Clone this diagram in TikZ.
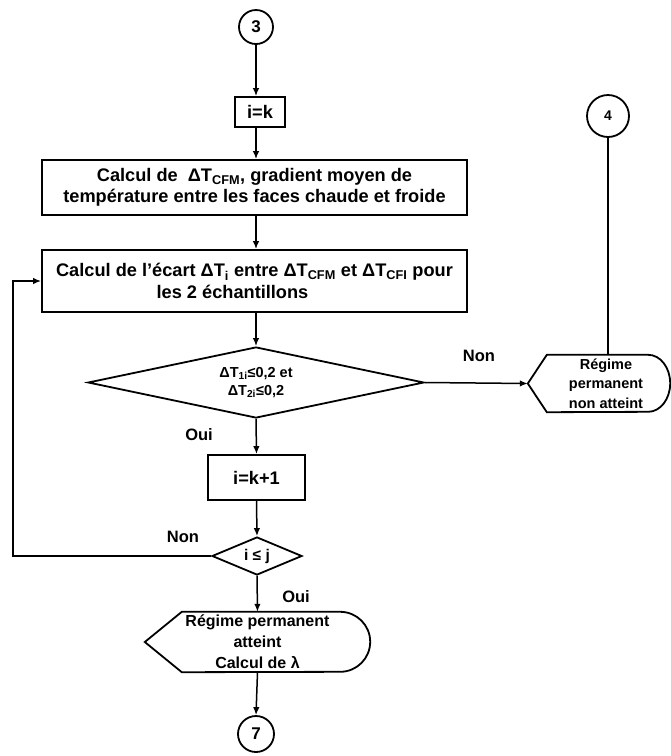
\documentclass[tikz,border=0pt]{standalone}
\usepackage{fontspec}
\setmainfont{Liberation Sans}
\usetikzlibrary{arrows.meta,shapes.geometric,calc}
\begin{document}
\begin{tikzpicture}[x=1pt,y=-1pt,
  procbox/.style={draw, line width=1.8pt, inner sep=0pt, align=center,
    font=\fontsize{18.2}{21.5}\selectfont\bfseries},
  conn/.style={line width=1.5pt, -{Latex[length=8pt,width=6.5pt]}},
  plainconn/.style={line width=1.5pt},
  lbl/.style={font=\fontsize{16.5}{19}\selectfont\bfseries},
  conncircle/.style={draw, circle, line width=1.8pt, minimum size=#1, inner sep=0pt,
    font=\fontsize{17}{19}\selectfont\bfseries},
  decision/.style={draw, diamond, line width=1.8pt, inner sep=0pt, align=center,
    font=\fontsize{14.5}{18}\selectfont\bfseries},
  dispbox/.style={inner sep=0pt, align=center},
  displine/.style={line width=1.8pt}]
\useasboundingbox (0,0) rectangle (671,756);
\coordinate (ax) at (256,0);
\coordinate (lp) at (13,0);

\node[conncircle=34pt] (c3) at (256,27) {3};
\node[procbox, minimum width=50pt, minimum height=30pt] (ik) at (260,112) {i=k};
\node[procbox, minimum width=425pt, minimum height=55pt] (b1) at (254.5,187.5)
  {Calcul de \ ΔT\textsubscript{CFM}, gradient moyen de\\température entre les faces chaude et froide};
\node[procbox, minimum width=425pt, minimum height=62pt] (b2) at (254.5,281)
  {Calcul de l'écart ΔT\textsubscript{i} entre ΔT\textsubscript{CFM} et ΔT\textsubscript{CFI} pour\\les 2 échantillons\hspace*{44pt}};
\node[decision, aspect=4.7, minimum width=336pt, minimum height=71pt] (d1) at (256,382.5)
  {ΔT\textsubscript{1i}≤0,2 et\\ΔT\textsubscript{2i}≤0,2};
\node[procbox, minimum width=97pt, minimum height=45pt] (ik1) at (256.5,477.5) {i=k+1};
\node[decision, aspect=2.4, minimum width=90pt, minimum height=38pt,
  font=\fontsize{15.5}{18}\selectfont\bfseries] (d2) at (257,556) {i ≤ j};
\node[dispbox, minimum width=225pt, minimum height=60pt,
  font=\fontsize{16}{21}\selectfont\bfseries] (e2) at (257.5,642)
  {Régime permanent\\atteint\\Calcul de λ};
\node[conncircle=36pt] (c7) at (256,734) {7};
\node[dispbox, minimum width=142pt, minimum height=57pt] (e1) at (599,383.5) {};
\node[dispbox, font=\fontsize{14.5}{19.5}\selectfont\bfseries] (e1t) at (606,383.5)
  {Régime\\permanent\\non atteint};
\node[conncircle=42pt, font=\fontsize{14}{17}\selectfont\bfseries] (c4) at (608,116) {4};

% display outlines
\draw[displine] (e1.west) -- ([xshift=19pt]e1.north west) -- ([xshift=-22pt]e1.north east)
  arc[start angle=90, end angle=-90, x radius=22pt, y radius=28.5pt]
  -- ([xshift=19pt]e1.south west) -- cycle;
\draw[displine] (e2.west) -- ([xshift=37pt]e2.north west) -- ([xshift=-30pt]e2.north east)
  arc[start angle=90, end angle=-90, x radius=30pt, y radius=30pt]
  -- ([xshift=37pt]e2.south west) -- cycle;

% connectors
\draw[conn] (c3.south) -- (c3.south |- ik.north);
\draw[conn] (ik.south -| ax) -- (ax |- b1.north);
\draw[conn] (b1.south -| ax) -- (ax |- b2.north);
\draw[conn] (b2.south -| ax) -- (d1.north);
\draw[conn] (d1.south) -- (ik1.north);
\draw[conn] (ik1.south) -- (d2.north);
\draw[conn] (d2.south) -- (e2.north);
\draw[conn] (e2.south) -- (c7.north);
\draw[conn] (d1.east) -- (e1.west);
\draw[plainconn] (c4.south) -- (c4.south |- e1.north);
\draw[conn] (d2.west) -- (d2.west -| lp) |- (b2.west);

% labels
\node[lbl] (non1) at (479,356) {Non};
\node[lbl] (oui1) at (199,435) {Oui};
\node[lbl] (non2) at (183,537) {Non};
\node[lbl] (oui2) at (296,597) {Oui};
\end{tikzpicture}
\end{document}
